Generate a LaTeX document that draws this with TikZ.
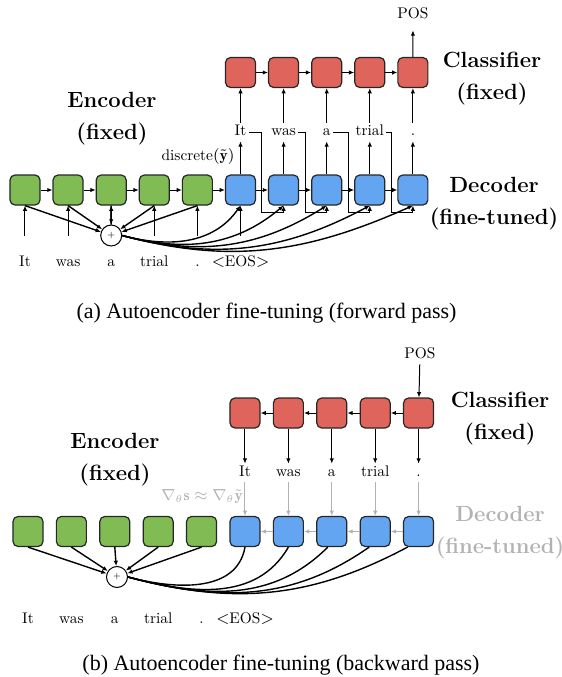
\documentclass[tikz,border=0pt]{standalone}
\usepackage{fontspec}
\usepackage{amsmath}
\usepackage{xcolor}
\usetikzlibrary{arrows.meta}
\newfontfamily\capfont{Liberation Serif}
\newfontfamily\wordfont{lmroman10-regular.otf}
\definecolor{encgreen}{RGB}{128,187,84}
\definecolor{decblue}{RGB}{99,165,240}
\definecolor{clsred}{RGB}{222,100,92}
\definecolor{gradgray}{RGB}{178,178,178}
\tikzset{
  cell/.style={draw=black!85, line width=0.6pt, rounded corners=2.5pt, minimum size=15pt, inner sep=0pt},
  enc/.style={cell, fill=encgreen},
  dec/.style={cell, fill=decblue},
  cls/.style={cell, fill=clsred},
  wordlbl/.style={font=\wordfont\fontsize{7.7}{9}\selectfont, inner sep=1pt, text height=5.4pt, text depth=1.5pt},
  headlbl/.style={font=\fontsize{11}{16}\selectfont\bfseries, align=center},
  sumnode/.style={circle, draw, fill=white, line width=0.5pt, minimum size=10.5pt, inner sep=0pt, font=\fontsize{4}{4}\selectfont},
  capt/.style={font=\capfont\fontsize{11}{13}\selectfont}
}

\begin{document}
\begin{tikzpicture}[x=0.5pt, y=0.5pt, >={Latex[length=2.6pt, width=2.2pt]}, line width=0.5pt]
 \useasboundingbox (0,0) rectangle (562,677);

 % (a) forward pass
 \foreach \i in {1,...,5} {
   \node[enc] (enca\i) at ({25+43.1*(\i-1)},487) {};
   \node[dec] (deca\i) at ({240.5+43.1*(\i-1)},487) {};
   \node[cls] (clsa\i) at ({240.5+43.1*(\i-1)},604.5) {};
 }
 \foreach \i/\j in {1/2,2/3,3/4,4/5} {
   \draw[->] (enca\i) -- (enca\j);
   \draw[->] (deca\i) -- (deca\j);
   \draw[->] (clsa\i) -- (clsa\j);
 }
 \draw[->] (enca5) -- (deca1);

 \node[wordlbl] (posa) at (413,662) {POS};
 \draw[->, shorten >=3pt] (clsa5) -- (posa);

 \foreach \w [count=\i] in {It,was,a,trial,.} {
   \node[wordlbl] (outa\i) at ({240.5+43.1*(\i-1)},545) {\w};
   \draw[->] (deca\i) -- (outa\i);
   \draw[->] (outa\i) -- (clsa\i);
 }
 \foreach \i/\j in {1/2,2/3,3/4,4/5} {
   \coordinate (turna\i) at ({262+43.1*(\i-1)},465);
   \draw[->] (outa\i.east) -| (turna\i) -| (deca\j.south);
 }

 \foreach \w [count=\i] in {It,was,a,trial,.,{$<$EOS$>$}}
   \node[wordlbl] (ina\i) at ({25+43.1*(\i-1)},414) {\w};
 \foreach \i/\b in {1/enca1,2/enca2,4/enca4,5/enca5,6/deca1}
   \draw[->, shorten <=9pt] (ina\i) -- (\b);

 \node[sumnode] (suma) at (111.2,441.5) {+};
 \draw[->, line width=0.7pt] (suma) -- (enca3);
 \foreach \i in {1,...,5}
   \draw[->, line width=0.7pt] (enca\i.south) -- (suma);
 \foreach \i/\a in {1/-125,2/-140,3/-148,4/-152,5/-156}
   \draw[->, line width=0.7pt] (suma.east) to[out=-15, in=\a] (deca\i.south);

 \node[headlbl] (encnamea) at (112,558) {Encoder\\(fixed)};
 \node[headlbl] (clsnamea) at (492,598) {Classifier\\(fixed)};
 \node[headlbl] (decnamea) at (494,473.5) {Decoder\\(fine-tuned)};
 \node[wordlbl] (discra) at (198,520) {discrete$(\tilde{\mathbf{y}})$};

 \node[capt] (capa) at (266.5,364) {(a) Autoencoder fine-tuning (forward pass)};

 % (b) backward pass
 \foreach \i in {1,...,5} {
   \node[enc] (encb\i) at ({28+43.4*(\i-1)},145.5) {};
   \node[dec] (decb\i) at ({245+43.4*(\i-1)},145.5) {};
   \node[cls] (clsb\i) at ({245+43.4*(\i-1)},264) {};
 }
 \foreach \i/\j in {1/2,2/3,3/4,4/5} {
   \draw[->, gradgray] (decb\j) -- (decb\i);
   \draw[->] (clsb\j) -- (clsb\i);
 }

 \node[wordlbl] (posb) at (420,322) {POS};
 \draw[->] (posb) -- (clsb5);

 \foreach \w [count=\i] in {It,was,a,trial,.} {
   \node[wordlbl] (outb\i) at ({245+43.4*(\i-1)},204) {\w};
   \draw[->] (clsb\i) -- (outb\i);
   \draw[->, gradgray] (outb\i) -- (decb\i);
 }

 \foreach \w [count=\i] in {It,was,a,trial,.,{$<$EOS$>$}}
   \node[wordlbl] (inb\i) at ({28+43.4*(\i-1)},57) {\w};

 \node[sumnode] (sumb) at (117,100) {+};
 \foreach \i in {1,...,5}
   \draw[->, line width=0.7pt] (encb\i.south) -- (sumb);
 \foreach \i/\a/\s in {1/-100/0,2/-120/0,3/-135/-2,4/-145/-3,5/-152/-5.5}
   \draw[line width=0.7pt] (sumb.east) to[out=-15, in=\a] ([xshift=\s pt]decb\i.south);

 \node[headlbl] (encnameb) at (115,217) {Encoder\\(fixed)};
 \node[headlbl] (clsnameb) at (500,258) {Classifier\\(fixed)};
 \node[headlbl, text=gradgray] (decnameb) at (500,144.5) {Decoder\\(fine-tuned)};
 \node[wordlbl, text=gradgray] (gradb) at (202,180) {$\nabla_\theta \mathbf{s} \approx \nabla_\theta \tilde{\mathbf{y}}$};

 \node[capt] (capb) at (281,12) {(b) Autoencoder fine-tuning (backward pass)};
\end{tikzpicture}
\end{document}
